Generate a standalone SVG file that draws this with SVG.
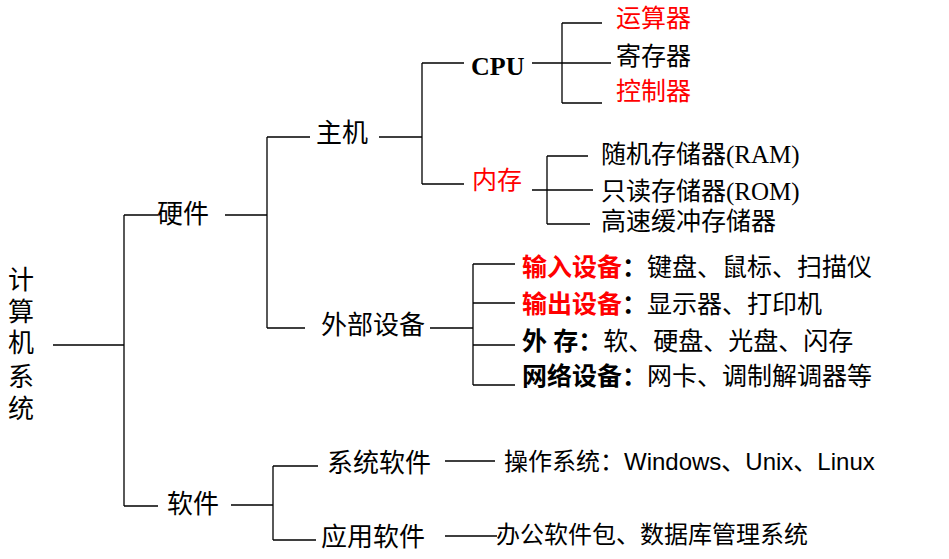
<svg xmlns="http://www.w3.org/2000/svg" width="949" height="559" viewBox="0 0 949 559">
<style>
.ln{stroke:#000;stroke-width:1.3;fill:none}
text{font-family:"Liberation Serif","Noto Sans CJK SC",serif;fill:#000}
.l1{font-size:26px}
.l2{font-size:25px}
.red{fill:#ff0000}
.b{font-weight:bold}
.sans{font-family:"Liberation Sans","Noto Sans CJK SC",sans-serif;font-size:24px}
</style>
<rect width="949" height="559" fill="#fff"/>
<g id="connectors">
<path class="ln" d="M53 345H124M124 215V506M124 215H158M124 506H158"/>
<path class="ln" d="M225 215H267M267 137V328M267 137H310M267 328H305"/>
<path class="ln" d="M379 137H422M422 63V184M422 63H464M422 184H464"/>
<path class="ln" d="M532 63H611M562 23V103M562 23H602M562 103H602"/>
<path class="ln" d="M532 190H593M547 156V224M547 156H588M547 224H590"/>
<path class="ln" d="M430 328H473M473 264V385M473 264H515M473 303H515M473 345H515M473 385H515"/>
<path class="ln" d="M231 505H273M273 466V540M273 466H318M273 540H316"/>
<path class="ln" d="M445 461H495M445 536H497"/>
</g>
<g id="root">
<text class="l1" x="8" y="289">计</text>
<text class="l1" x="8" y="320.5">算</text>
<text class="l1" x="8" y="352">机</text>
<text class="l1" x="8" y="385.5">系</text>
<text class="l1" x="8" y="418">统</text>
</g>
<g id="hardware"><text class="l1" x="157" y="223">硬件</text></g>
<g id="software"><text class="l1" x="167" y="513">软件</text></g>
<g id="host"><text class="l1" x="316" y="142">主机</text></g>
<g id="peripheral"><text class="l1" x="321" y="334">外部设备</text></g>
<g id="cpu"><text class="l1 b" x="471" y="75">CPU</text></g>
<g id="memory"><text class="l2 red" x="472" y="189">内存</text></g>
<g id="alu"><text class="l2 red" x="616" y="27">运算器</text></g>
<g id="register"><text class="l2" x="616" y="65">寄存器</text></g>
<g id="controller"><text class="l2 red" x="616" y="100">控制器</text></g>
<g id="ram"><text class="l2" x="601" y="163">随机存储器(RAM)</text></g>
<g id="rom"><text class="l2" x="601" y="200">只读存储器(ROM)</text></g>
<g id="cache"><text class="l2" x="601" y="230">高速缓冲存储器</text></g>
<g id="input"><text class="l2" x="522" y="275.5"><tspan class="red b">输入设备</tspan><tspan class="b">：</tspan>键盘、鼠标、扫描仪</text></g>
<g id="output"><text class="l2" x="522" y="313"><tspan class="red b">输出设备</tspan><tspan class="b">：</tspan>显示器、打印机</text></g>
<g id="external"><text class="l2" x="522" y="350"><tspan class="b">外 存：</tspan>软、硬盘、光盘、闪存</text></g>
<g id="network"><text class="l2" x="522" y="385"><tspan class="b">网络设备：</tspan>网卡、调制解调器等</text></g>
<g id="syssoft"><text class="l1" x="327" y="472">系统软件</text></g>
<g id="appsoft"><text class="l1" x="321" y="546">应用软件</text></g>
<g id="os"><text class="sans" x="504" y="470">操作系统：Windows、Unix、Linux</text></g>
<g id="apps"><text class="sans" x="496" y="543">办公软件包、数据库管理系统</text></g>
</svg>
